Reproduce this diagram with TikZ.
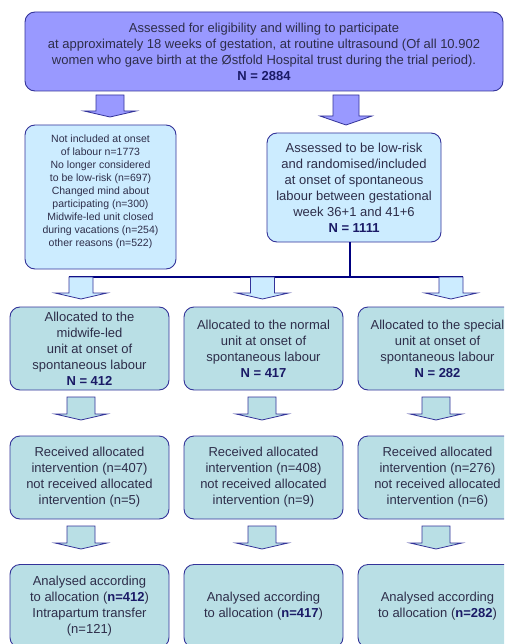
\documentclass[tikz,border=0pt]{standalone}
\usepackage{fontspec}
\setmainfont{Liberation Sans}
\definecolor{lavender}{HTML}{9999FF}
\definecolor{paleblue}{HTML}{CCECFF}
\definecolor{paleteal}{HTML}{B9DFE5}
\definecolor{navyline}{HTML}{333399}
\definecolor{trunkblue}{HTML}{000080}
\definecolor{txtgrey}{HTML}{2E2E4A}
\definecolor{nblue}{HTML}{1A1A66}
\newcommand\nbold[1]{\textcolor{nblue}{\textbf{#1}}}
\tikzset{
  pics/blockarrow/.style n args={4}{code={
    \filldraw[fill=#1,draw=navyline,line width=0.8pt]
      (-#2,0) -- (#2,0) -- (#2,#3) -- (26,#3) -- (0,#4) -- (-26,#3) -- (-#2,#3) -- cycle;}}
}
\begin{document}
\begin{tikzpicture}[x=1pt,y=-1pt,
    box/.style={draw=navyline,line width=0.9pt,rounded corners=10pt,align=center,
      text=txtgrey,font=\fontsize{13}{16}\selectfont,inner sep=0pt},
    rowbox/.style={box,fill=paleteal,minimum width=159pt,minimum height=83pt},
    trunk/.style={draw=trunkblue,line width=2pt}]
    \useasboundingbox (0,0) rectangle (504,644);
    \clip (0,0) rectangle (504,644);
    % screening and inclusion
    \node[box,fill=lavender,minimum width=478pt,minimum height=79pt] (screened) at (264,51.5)
      {Assessed for eligibility and willing to participate\\
       at approximately 18 weeks of gestation, at routine ultrasound (Of all 10.902\\
       women who gave birth at the Østfold Hospital trust during the trial period).\\
       \nbold{N = 2884}};
    \node[box,fill=paleblue,minimum width=151pt,minimum height=144pt,
      font=\fontsize{10.5}{13}\selectfont] (excluded) at (100.5,197)
      {Not included at onset\\of labour n=1773\\No longer considered\\to be low-risk (n=697)\\
       Changed mind about\\participating (n=300)\\Midwife-led unit closed\\
       during vacations (n=254)\\other reasons (n=522)\\[-1pt]\mbox{}};
    \node[box,fill=paleblue,minimum width=174pt,minimum height=109pt] (included) at (354,187.5)
      {Assessed to be low-risk\\and randomised/included\\at onset of spontaneous\\
       labour between gestational\\week 36+1 and 41+6\\\nbold{N = 1111}};
    \pic at (110,95) {blockarrow={lavender}{14}{16}{22}};
    \pic at (346,95) {blockarrow={lavender}{13}{21}{30}};
    % split into the three units
    \coordinate (split) at (350,277);
    \coordinate (trunkL) at (69,277);
    \coordinate (trunkR) at (463,277);
    \draw[trunk] (included.south -| split) -- (split);
    \draw[trunk] (trunkL) -- (trunkR);
    \pic at (81,277) {blockarrow={paleblue}{12}{16}{22}};
    \pic at (262.5,277) {blockarrow={paleblue}{12}{16}{22}};
    \pic at (451,277) {blockarrow={paleblue}{12}{16}{22}};
    % allocation
    \node[rowbox] (alloc1) at (89.5,348.5)
      {Allocated to the\\midwife-led\\unit at onset of\\spontaneous labour\\\nbold{N = 412}};
    \node[rowbox] (alloc2) at (263.5,348.5)
      {Allocated to the normal\\unit at onset of\\spontaneous labour\\\nbold{N = 417}};
    \node[rowbox] (alloc3) at (437.5,348.5)
      {Allocated to the special\\unit at onset of\\spontaneous labour\\\nbold{N = 282}};
    \pic at (81,397) {blockarrow={paleteal}{14}{17}{23}};
    \pic at (262,397) {blockarrow={paleteal}{14}{17}{23}};
    \pic at (436,397) {blockarrow={paleteal}{14}{17}{23}};
    % received intervention
    \node[rowbox] (recv1) at (89.5,477.5)
      {Received allocated\\intervention (n=407)\\not received allocated\\intervention (n=5)};
    \node[rowbox] (recv2) at (263.5,477.5)
      {Received allocated\\intervention (n=408)\\not received allocated\\intervention (n=9)};
    \node[rowbox] (recv3) at (437.5,477.5)
      {Received allocated\\intervention (n=276)\\not received allocated\\intervention (n=6)};
    \pic at (81,526) {blockarrow={paleteal}{14}{17}{23}};
    \pic at (262,526) {blockarrow={paleteal}{14}{17}{23}};
    \pic at (436,526) {blockarrow={paleteal}{14}{17}{23}};
    % analysis
    \node[rowbox] (anal1) at (89.5,606)
      {Analysed according\\to allocation (\nbold{n=412})\\Intrapartum transfer\\(n=121)};
    \node[rowbox] (anal2) at (263.5,606)
      {Analysed according\\to allocation (\nbold{n=417})};
    \node[rowbox] (anal3) at (437.5,606)
      {Analysed according\\to allocation (\nbold{n=282})};
\end{tikzpicture}
\end{document}
